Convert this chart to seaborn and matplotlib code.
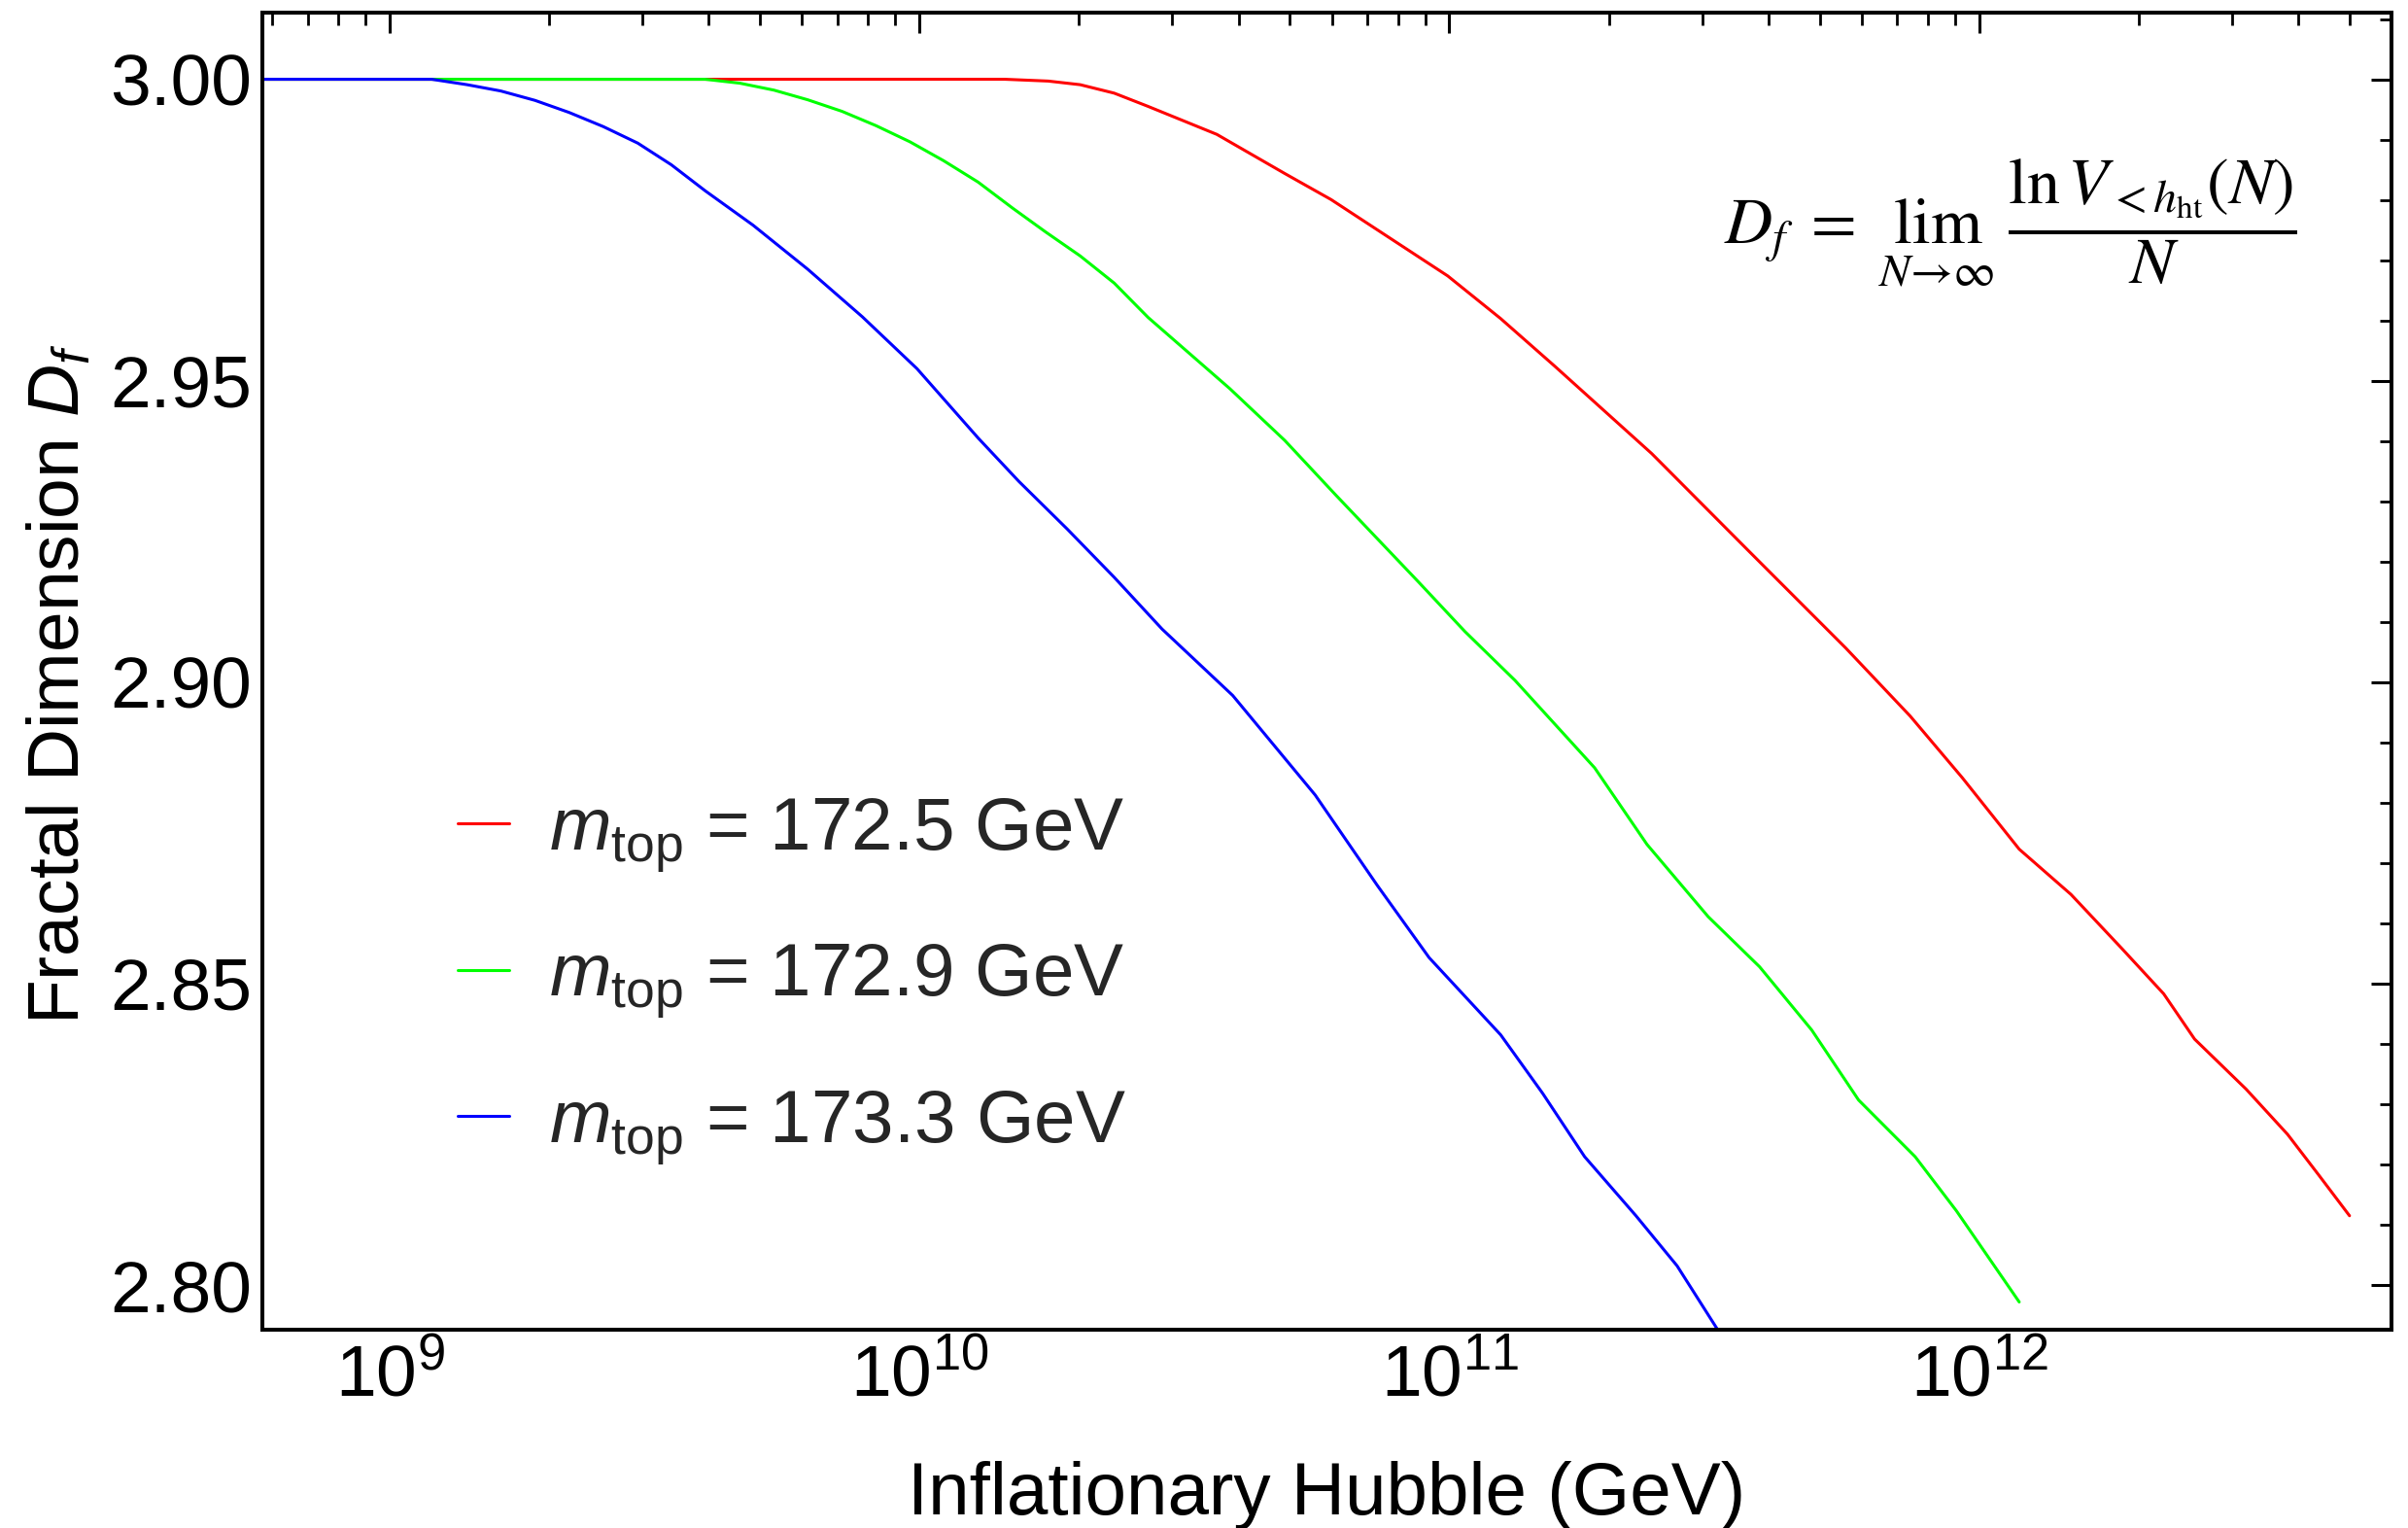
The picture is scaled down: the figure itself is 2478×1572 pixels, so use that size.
import numpy as np
import pandas as pd
import matplotlib
matplotlib.use("Agg")
import matplotlib.pyplot as plt
import seaborn as sns
from matplotlib.ticker import LogLocator, MultipleLocator, FormatStrFormatter, NullFormatter
from matplotlib.lines import Line2D

# ---------------- data ----------------
series_labels = [r"$m_{\rm top}$ = 172.5 GeV",
                 r"$m_{\rm top}$ = 172.9 GeV",
                 r"$m_{\rm top}$ = 173.3 GeV"]
series_colors = ["#ff0000", "#00ff00", "#0000ff"]

H_red = [5.75e8, 1.45e10, 1.75e10, 2.01e10, 2.33e10, 2.70e10, 3.64e10, 4.89e10,
         5.98e10, 9.93e10, 1.25e11, 1.58e11, 2.41e11, 3.67e11, 5.60e11, 7.41e11,
         9.29e11, 1.19e12, 1.49e12, 1.86e12, 2.23e12, 2.55e12, 3.19e12, 3.82e12,
         4.37e12, 5.00e12]
Df_red = [3.0, 3.0, 2.9997, 2.9991, 2.9977, 2.9955, 2.99086, 2.98437,
          2.98005, 2.96738, 2.9603, 2.95243, 2.93791, 2.92179, 2.90566, 2.89437,
          2.88416, 2.8723, 2.8648, 2.8558, 2.8483, 2.8408, 2.8325, 2.8250,
          2.8183, 2.8115]

H_green = [5.75e8, 3.94e9, 4.58e9, 5.31e9, 6.15e9, 7.14e9, 8.28e9, 9.59e9,
           1.11e10, 1.29e10, 1.50e10, 1.73e10, 2.01e10, 2.33e10, 2.70e10, 3.85e10,
           4.89e10, 6.11e10, 8.75e10, 1.07e11, 1.33e11, 1.88e11, 2.36e11, 3.08e11,
           3.85e11, 4.83e11, 5.92e11, 7.57e11, 9.06e11, 1.19e12]
Df_green = [3.0, 3.0, 2.99935, 2.9982, 2.9966, 2.99468, 2.9923, 2.98963,
            2.9865, 2.98294, 2.9786, 2.97467, 2.9707, 2.9662, 2.9605, 2.9487,
            2.9401, 2.9310, 2.9166, 2.9084, 2.9003, 2.8858, 2.8731, 2.8611,
            2.8528, 2.8423, 2.8307, 2.8213, 2.8123, 2.7972]

H_blue = [5.75e8, 1.2e9, 1.40e9, 1.62e9, 1.88e9, 2.18e9, 2.53e9, 2.94e9,
          3.40e9, 3.94e9, 4.85e9, 6.15e9, 7.80e9, 9.89e9, 1.29e10, 1.54e10,
          1.90e10, 2.33e10, 2.87e10, 3.90e10, 5.58e10, 7.31e10, 9.16e10, 1.25e11,
          1.50e11, 1.80e11, 2.25e11, 2.69e11, 3.22e11]
Df_blue = [3.0, 3.0, 2.9991, 2.99806, 2.9965, 2.9945, 2.99215, 2.9894,
           2.98582, 2.9815, 2.9758, 2.9685, 2.9606, 2.9520, 2.9405, 2.9333,
           2.9254, 2.9174, 2.9088, 2.8978, 2.8813, 2.8663, 2.8543, 2.8415,
           2.8318, 2.8213, 2.8115, 2.8032, 2.7924]

y_ticks = [2.80, 2.85, 2.90, 2.95, 3.00]

df = pd.concat([
    pd.DataFrame({"H": H_red, "Df": Df_red, "mtop": series_labels[0]}),
    pd.DataFrame({"H": H_green, "Df": Df_green, "mtop": series_labels[1]}),
    pd.DataFrame({"H": H_blue, "Df": Df_blue, "mtop": series_labels[2]}),
], ignore_index=True)

# ---------------- style ----------------
sns.set_theme(style="white")
plt.rcParams["font.family"] = ["Liberation Sans", "DejaVu Sans"]
plt.rcParams["mathtext.fontset"] = "custom"
plt.rcParams["mathtext.rm"] = "Liberation Sans"
plt.rcParams["mathtext.it"] = "Liberation Sans:italic"
plt.rcParams["mathtext.bf"] = "Liberation Sans:bold"

W, H = 2478, 1572
DPI = 100
fig = plt.figure(figsize=(W / DPI, H / DPI), dpi=DPI)
fig.patch.set_facecolor("white")
L, R, T, B = 270, 2461, 12.7, 1368
ax = fig.add_axes([L / W, 1 - B / H, (R - L) / W, (B - T) / H])
ax.set_facecolor("white")

sns.lineplot(data=df, x="H", y="Df", hue="mtop", hue_order=series_labels,
             palette=series_colors, sort=False, estimator=None,
             linewidth=2.2, ax=ax, legend=False)

ax.set_xscale("log")
ax.set_xlim(5.75e8, 6.0e12)
ax.set_ylim(2.7926, 3.0111)

ax.xaxis.set_major_locator(LogLocator(base=10, numticks=20))
ax.xaxis.set_minor_locator(LogLocator(base=10, subs=np.arange(2, 10), numticks=100))
ax.xaxis.set_minor_formatter(NullFormatter())
ax.set_yticks(y_ticks)
ax.yaxis.set_minor_locator(MultipleLocator(0.01))
ax.yaxis.set_major_formatter(FormatStrFormatter("%.2f"))

FS = 54
ax.tick_params(which="both", direction="in", top=True, right=True,
               color="black", labelcolor="black", labelsize=FS)
ax.tick_params(which="major", length=15, width=2.2)
ax.tick_params(which="minor", length=9, width=2.0)
ax.tick_params(axis="y", which="major", pad=8)
ax.tick_params(axis="x", which="major", pad=10)

for sp in ax.spines.values():
    sp.set_visible(True)
    sp.set_color("black")
    sp.set_linewidth(2.9)

ax.set_xlabel("Inflationary Hubble (GeV)", fontsize=55, color="black")
ax.set_ylabel(r"Fractal Dimension $D_f$", fontsize=54, color="black")
ax.xaxis.set_label_coords(0.5, -0.0996)
ax.yaxis.set_label_coords(-0.0794, 0.49)

handles = [Line2D([], [], color=c, linewidth=2.2) for c in series_colors]
ax.legend(handles, series_labels, loc="upper left",
          bbox_to_anchor=(0.0917, 0.4051), frameon=False, fontsize=55,
          handlelength=0.70, handletextpad=0.53, labelspacing=0.92,
          borderpad=0, borderaxespad=0)

ax.text(0.8210, 0.8405,
        r"$D_f \;=\; \lim_{N\to\infty}\; \dfrac{\ln V_{<h_{\mathrm{ht}}}(N)}{N}$",
        transform=ax.transAxes, ha="center", va="center", fontsize=49,
        math_fontfamily="stix", color="black")

fig.savefig("out.png", dpi=DPI, facecolor="white")
